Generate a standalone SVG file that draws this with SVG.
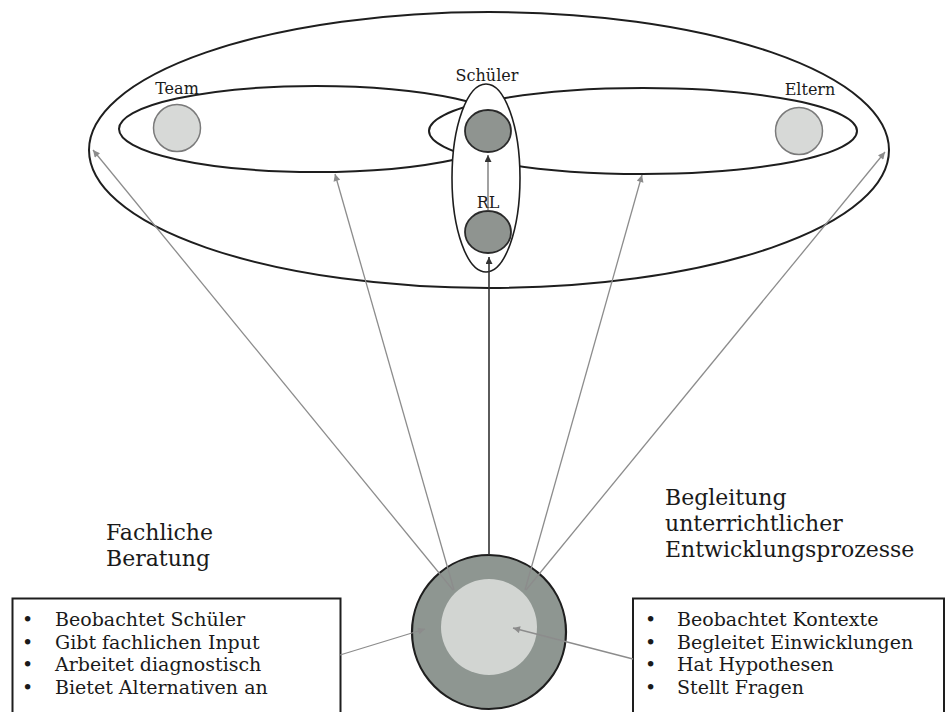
<svg xmlns="http://www.w3.org/2000/svg" width="950" height="712" viewBox="0 0 950 712">
  <style>
    .line{stroke:#1e1e1e;stroke-width:2}
    .thin{stroke:#1e1e1e;stroke-width:1.6}
    .hollow{fill:none}
    .white{fill:#fff}
    .txt{font-family:"DejaVu Serif","Liberation Serif",serif;fill:#1a1a1a}
    .small{font-size:16px;text-anchor:middle}
    .head{font-size:22px}
    .item{font-size:19px}
    .ray{fill:none;stroke:#8c8c8c;stroke-width:1.3;marker-end:url(#ah)}
    .peer{fill:#d7d9d7;stroke:#7a7a7a;stroke-width:1.5}
    .core{fill:#8f9490;stroke:#2a2a2a;stroke-width:1.8}
    .box{fill:#fff;stroke:#1e1e1e;stroke-width:2}
  </style>
  <defs>
    <marker id="ah" viewBox="0 0 10 10" refX="10" refY="5" markerWidth="8" markerHeight="7" markerUnits="userSpaceOnUse" orient="auto">
      <path d="M0,0 L10,5 L0,10 z" fill="#8c8c8c"/>
    </marker>
    <marker id="ahd" viewBox="0 0 10 10" refX="10" refY="5" markerWidth="8" markerHeight="7" markerUnits="userSpaceOnUse" orient="auto">
      <path d="M0,0 L10,5 L0,10 z" fill="#333"/>
    </marker>
  </defs>

  <rect width="950" height="712" fill="#fff"/>

  <!-- school environment -->
  <g id="umfeld">
    <ellipse cx="489" cy="150" rx="400" ry="138" class="line white"/>
  </g>

  <g id="team">
    <ellipse cx="316" cy="129" rx="197" ry="43" class="line hollow"/>
    <circle cx="177" cy="128" r="23.5" class="peer"/>
    <text x="177" y="94" class="txt small">Team</text>
  </g>

  <g id="eltern">
    <ellipse cx="643" cy="131" rx="214" ry="43" class="line hollow"/>
    <circle cx="799" cy="131" r="23.5" class="peer"/>
    <text x="810" y="95" class="txt small">Eltern</text>
  </g>

  <g id="schueler">
    <ellipse cx="486" cy="178" rx="34" ry="94" class="thin white"/>
    <ellipse cx="488" cy="131" rx="23" ry="21" class="core"/>
    <text x="487" y="81" class="txt small">Schüler</text>
  </g>

  <g id="rl">
    <ellipse cx="488" cy="232" rx="23" ry="21" class="core"/>
    <text x="488" y="208" class="txt small">RL</text>
  </g>

  <!-- consultant -->
  <g id="berater">
    <circle cx="489" cy="632" r="77" fill="#8e9691" stroke="#1e1e1e" stroke-width="2.2"/>
    <circle cx="489" cy="627" r="48" fill="#d2d5d2"/>
  </g>

  <g id="fachlich">
    <text class="txt head"><tspan x="106" y="540">Fachliche</tspan><tspan x="106" y="566">Beratung</tspan></text>
    <rect x="12.5" y="598.5" width="328" height="130" class="box"/>
    <text class="txt item">
      <tspan x="22" y="626">•</tspan><tspan x="55" y="626">Beobachtet Schüler</tspan>
      <tspan x="22" y="648.5">•</tspan><tspan x="55" y="648.5">Gibt fachlichen Input</tspan>
      <tspan x="22" y="671">•</tspan><tspan x="55" y="671">Arbeitet diagnostisch</tspan>
      <tspan x="22" y="693.5">•</tspan><tspan x="55" y="693.5">Bietet Alternativen an</tspan>
    </text>
  </g>

  <g id="begleitung">
    <text class="txt head"><tspan x="665" y="505">Begleitung</tspan><tspan x="665" y="531">unterrichtlicher</tspan><tspan x="665" y="557">Entwicklungsprozesse</tspan></text>
    <rect x="633" y="598.5" width="311" height="130" class="box"/>
    <text class="txt item">
      <tspan x="645" y="626">•</tspan><tspan x="677" y="626">Beobachtet Kontexte</tspan>
      <tspan x="645" y="648.5">•</tspan><tspan x="677" y="648.5">Begleitet Einwicklungen</tspan>
      <tspan x="645" y="671">•</tspan><tspan x="677" y="671">Hat Hypothesen</tspan>
      <tspan x="645" y="693.5">•</tspan><tspan x="677" y="693.5">Stellt Fragen</tspan>
    </text>
  </g>

  <!-- connectors -->
  <g id="connectors">
    <line x1="453" y1="590" x2="93" y2="150" class="ray"/>
    <line x1="454" y1="590" x2="335" y2="174" class="ray"/>
    <line x1="525" y1="590" x2="642" y2="175" class="ray"/>
    <line x1="526" y1="590" x2="885" y2="152" class="ray"/>
    <line x1="489" y1="555" x2="489" y2="257" fill="none" stroke="#333" stroke-width="1.6" marker-end="url(#ahd)"/>
    <line x1="488" y1="211" x2="488" y2="155" fill="none" stroke="#555" stroke-width="1.1" marker-end="url(#ahd)"/>
    <line x1="340" y1="655" x2="425" y2="629" class="ray"/>
    <line x1="633" y1="659" x2="513" y2="628" class="ray"/>
  </g>
</svg>
